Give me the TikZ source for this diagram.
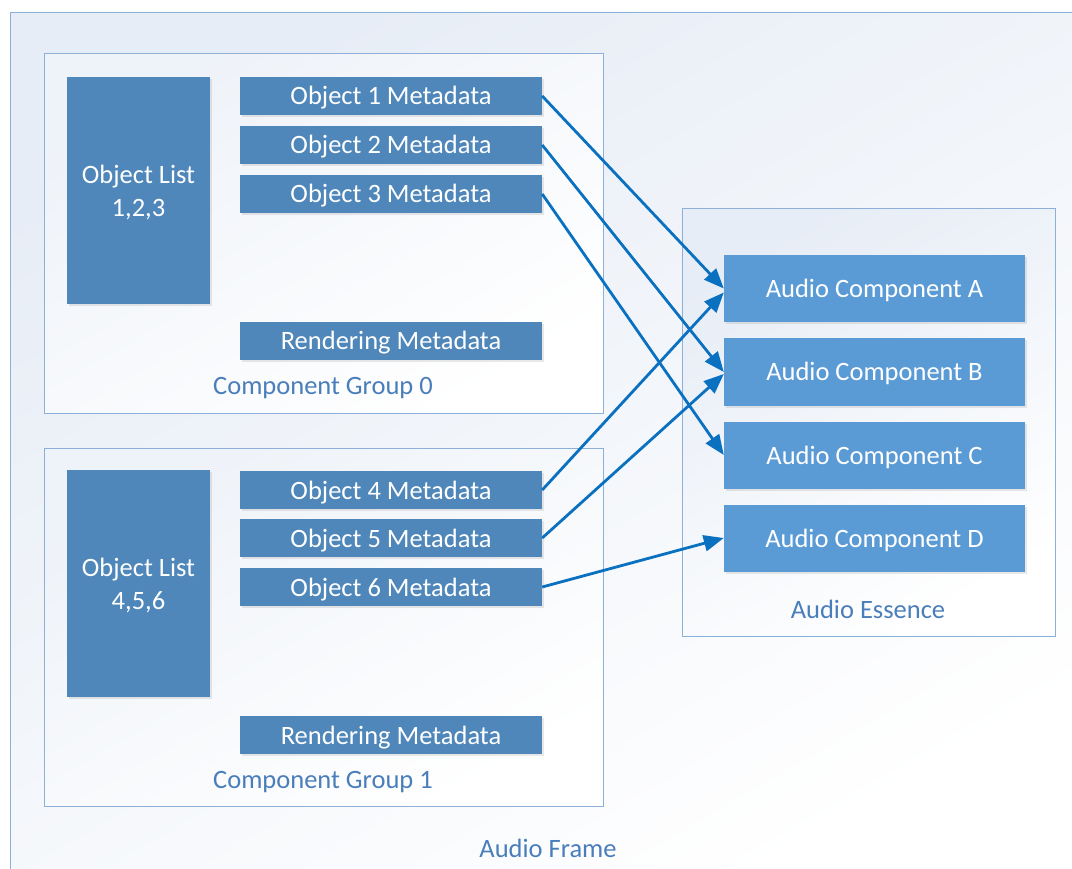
\documentclass[tikz,border=0pt]{standalone}
\usepackage{fontspec}
\setmainfont{Carlito}
\usetikzlibrary{arrows.meta,shadows,calc}
\definecolor{boxdark}{HTML}{4F87BA}
\definecolor{boxlight}{HTML}{5B9BD5}
\definecolor{framec}{HTML}{8DB0D8}
\definecolor{arrowc}{HTML}{0A70C0}
\definecolor{labelc}{HTML}{4A7EBB}
\definecolor{tint}{HTML}{E7EDF6}
\tikzset{
  x=1pt, y=-1pt,
  frame/.style={draw=framec, line width=1pt},
  onel/.style={text height=22pt, text depth=4pt},
  dbox/.style={fill=boxdark, draw=none, text=white, font=\fontsize{26.5}{33}\selectfont,
    drop shadow={opacity=0.18, shadow xshift=1.5pt, shadow yshift=-2pt}},
  lbox/.style={fill=boxlight, draw=none, text=white, font=\fontsize{26.5}{33}\selectfont, onel,
    drop shadow={opacity=0.18, shadow xshift=1.5pt, shadow yshift=-2pt}},
  mbox/.style={dbox, onel, minimum width=302pt, minimum height=38pt},
  listbox/.style={dbox, minimum width=143pt, minimum height=227pt, align=center, text depth=-1pt},
  lab/.style={text=labelc, font=\fontsize{26.5}{33}\selectfont, onel},
  conn/.style={draw=arrowc, line width=2.8pt, -{Triangle[length=20pt,width=16pt]}},
}
\begin{document}
\begin{tikzpicture}
\useasboundingbox (0,0) rectangle (1072,869);
\fill[white] (0,0) rectangle (1072,869);
% outer frame
\path[frame, top color=tint, bottom color=white, shading angle=30] (10,13) rectangle (1090,890);
% groups
\path[frame, top color=tint!70, bottom color=white, shading angle=30] (44,54) rectangle (603,413);
\path[frame, top color=tint!70, bottom color=white, shading angle=30] (44,448) rectangle (603,806);
\path[frame, top color=tint, bottom color=white, shading angle=30] (682,209) rectangle (1055,636);

% group 0
\node[listbox] (ol1) at (138.5,190.5) {Object List\\1,2,3};
\node[mbox] (o1) at (391,96) {Object 1 Metadata};
\node[mbox] (o2) at (391,145) {Object 2 Metadata};
\node[mbox] (o3) at (391,194) {Object 3 Metadata};
\node[mbox] (r0) at (391,341) {Rendering Metadata};
\node[lab] (g0) at (323,386) {Component Group 0};

% group 1
\node[listbox] (ol2) at (138.5,583.5) {Object List\\4,5,6};
\node[mbox] (o4) at (391,490) {Object 4 Metadata};
\node[mbox] (o5) at (391,538) {Object 5 Metadata};
\node[mbox] (o6) at (391,587) {Object 6 Metadata};
\node[mbox] (r1) at (391,735) {Rendering Metadata};
\node[lab] (g1) at (323,779) {Component Group 1};

% audio essence
\node[lbox, minimum width=301pt, minimum height=67pt] (ca) at (874.5,288.5) {Audio Component A};
\node[lbox, minimum width=301pt, minimum height=67pt] (cb) at (874.5,372) {Audio Component B};
\node[lbox, minimum width=301pt, minimum height=67pt] (cc) at (874.5,455) {Audio Component C};
\node[lbox, minimum width=301pt, minimum height=67pt] (cd) at (874.5,538) {Audio Component D};
\node[lab] (ess) at (868,609) {Audio Essence};
\node[lab] (fr) at (548,848) {Audio Frame};

% connectors
\draw[conn] (o1.east) -- (ca.west);
\draw[conn] (o2.east) -- (cb.west);
\draw[conn] (o3.east) -- (cc.west);
\draw[conn] (o4.east) -- ($(ca.west)+(0,4)$);
\draw[conn] (o5.east) -- ($(cb.west)+(0,2)$);
\draw[conn] (o6.east) -- (cd.west);
\end{tikzpicture}
\end{document}
